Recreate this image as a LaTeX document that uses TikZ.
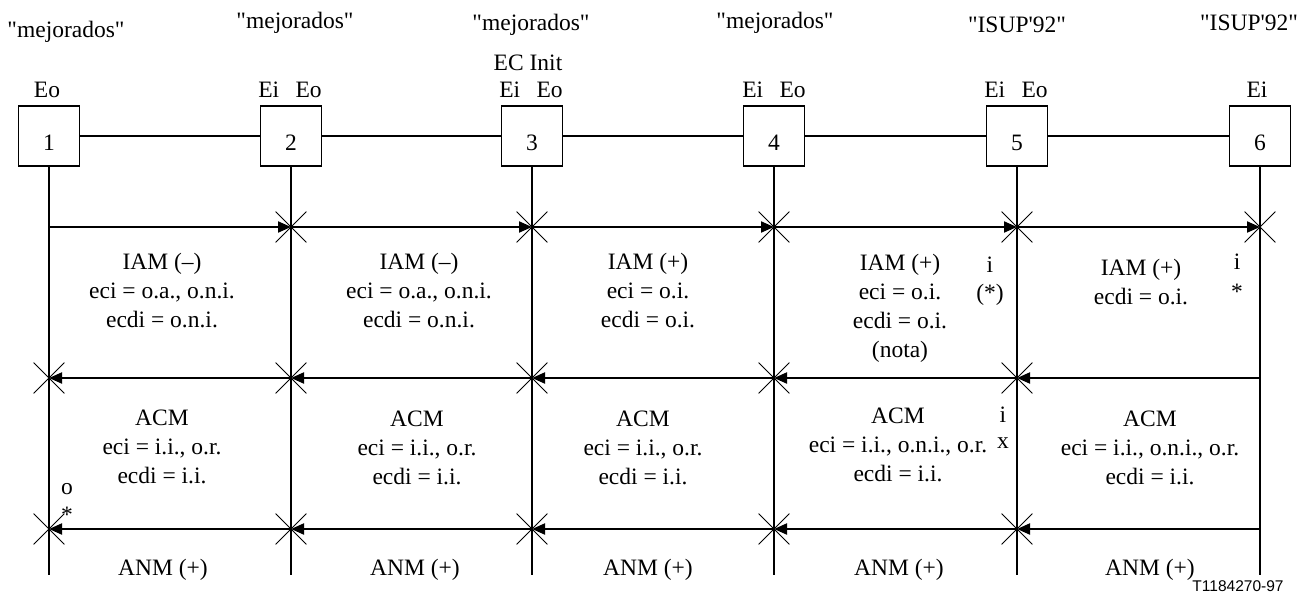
\documentclass[tikz,border=0pt]{standalone}
\usepackage{fontspec}
\newfontfamily\tr{Liberation Serif}
\newfontfamily\hv{Liberation Sans}
\usetikzlibrary{arrows.meta,shapes.misc}
\begin{document}
\begin{tikzpicture}[x=1pt,y=-1pt,
  txt/.style={font=\fontsize{23.5}{29}\selectfont\tr, inner sep=0pt, align=center},
  box/.style={draw, line width=1.2pt, minimum width=61pt, minimum height=60pt, inner sep=0pt,
              text height=28pt, text depth=0pt, font=\fontsize{23.5}{29}\selectfont\tr},
  wire/.style={line width=1.8pt},
  msg/.style={line width=2pt, -{Triangle[length=13pt,width=11pt]}},
  xmark/.style={draw, cross out, line width=0.8pt, minimum size=30pt, inner sep=0pt},
  tag/.style={font=\fontsize{15.5}{18}\selectfont\hv, inner sep=0pt}
]
\useasboundingbox (0,0) rectangle (1298,594);

% exchanges, instants and lines
\foreach \i/\x in {1/49,2/291,3/532,4/774,5/1017,6/1260}{
  \node[box] (b\i) at (\x,136) {\i};
  \coordinate (t\i) at (\x,227);
  \coordinate (m\i) at (\x,378);
  \coordinate (n\i) at (\x,529);
  \coordinate (e\i) at (\x,575);
  \draw[wire] (b\i) -- (e\i);
}
\draw[wire] (b1) -- (b2);
\draw[wire] (b2) -- (b3);
\draw[wire] (b3) -- (b4);
\draw[wire] (b4) -- (b5);
\draw[wire] (b5) -- (b6);

% top labels
\node[txt] (q1) at (66,32) {"mejorados"};
\node[txt] (q2) at (295,23) {"mejorados"};
\node[txt] (q3) at (531,25) {"mejorados"};
\node[txt] (q4) at (775,23) {"mejorados"};
\node[txt] (q5) at (1017,25) {"ISUP\char39 92"};
\node[txt] (q6) at (1249,23) {"ISUP\char39 92"};
\node[txt] (ec) at (528,63) {EC Init};
\node[txt] (l1) at (47,90) {Eo};
\node[txt] (l2) at (290,90) {Ei\hspace{0.7em}Eo};
\node[txt] (l3) at (531,90) {Ei\hspace{0.7em}Eo};
\node[txt] (l4) at (774,90) {Ei\hspace{0.7em}Eo};
\node[txt] (l5) at (1016,90) {Ei\hspace{0.7em}Eo};
\node[txt] (l6) at (1257,90) {Ei};

% IAM (forward)
\draw[msg] (t1) -- (t2);
\draw[msg] (t2) -- (t3);
\draw[msg] (t3) -- (t4);
\draw[msg] (t4) -- (t5);
\draw[msg] (t5) -- (t6);
% ACM (backward)
\draw[msg] (m6) -- (m5);
\draw[msg] (m5) -- (m4);
\draw[msg] (m4) -- (m3);
\draw[msg] (m3) -- (m2);
\draw[msg] (m2) -- (m1);
% ANM (backward)
\draw[msg] (n6) -- (n5);
\draw[msg] (n5) -- (n4);
\draw[msg] (n4) -- (n3);
\draw[msg] (n3) -- (n2);
\draw[msg] (n2) -- (n1);

% crosses
\foreach \i in {2,...,6}{ \node[xmark] (xt\i) at (t\i) {}; }
\foreach \i in {1,...,5}{ \node[xmark] (xm\i) at (m\i) {}; \node[xmark] (xn\i) at (n\i) {}; }

% IAM texts
\node[txt] (a1) at (162,291) {IAM (–)\\eci = o.a., o.n.i.\\ecdi = o.n.i.};
\node[txt] (a2) at (419,291) {IAM (–)\\eci = o.a., o.n.i.\\ecdi = o.n.i.};
\node[txt] (a3) at (648,291) {IAM (+)\\eci = o.i.\\ecdi = o.i.};
\node[txt] (a4) at (900,308) {IAM (+)\\eci = o.i.\\ecdi = o.i.\\(nota)};
\node[txt] (a5) at (1141,282) {IAM (+)\\ecdi = o.i.};
\node[txt] (i4) at (990,265) {i};
\node[txt] (s4) at (990,295) {(*)};
\node[txt] (i5) at (1237,262) {i};
\node[txt] (s5) at (1237,292) {*};

% ACM texts
\node[txt] (c1) at (162,447) {ACM\\eci = i.i., o.r.\\ecdi = i.i.};
\node[txt] (c2) at (417,448) {ACM\\eci = i.i., o.r.\\ecdi = i.i.};
\node[txt] (c3) at (643,448) {ACM\\eci = i.i., o.r.\\ecdi = i.i.};
\node[txt] (c4) at (898,445) {ACM\\eci = i.i., o.n.i., o.r.\\ecdi = i.i.};
\node[txt] (c5) at (1150,448) {ACM\\eci = i.i., o.n.i., o.r.\\ecdi = i.i.};
\node[txt] (ix) at (1003,415) {i};
\node[txt] (xx) at (1003,443) {x};
\node[txt] (o1) at (67,489) {o};
\node[txt] (so1) at (67,515) {*};

% ANM texts
\node[txt] (n1t) at (163,570) {ANM (+)};
\node[txt] (n2t) at (415,570) {ANM (+)};
\node[txt] (n3t) at (648,570) {ANM (+)};
\node[txt] (n4t) at (899,570) {ANM (+)};
\node[txt] (n5t) at (1150,570) {ANM (+)};

\node[tag] (ref) at (1238,586) {T1184270-97};
\end{tikzpicture}
\end{document}
